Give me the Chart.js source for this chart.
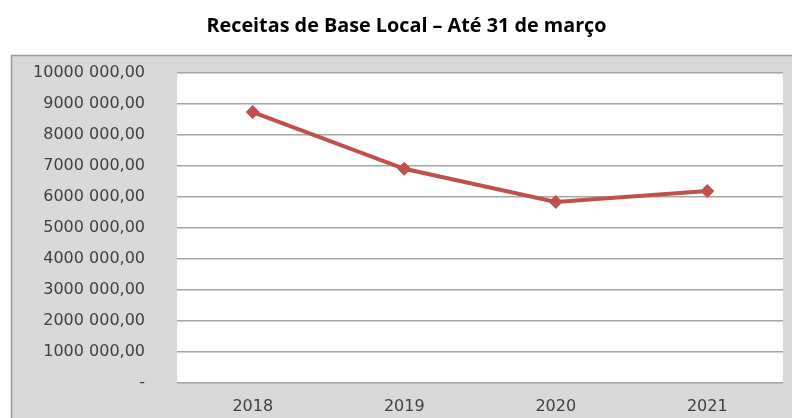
<!DOCTYPE html>
<html>
<head>
<meta charset="utf-8">
<script src="https://cdn.jsdelivr.net/npm/chart.js@4/dist/chart.umd.min.js"></script>
<style>
html,body{margin:0;padding:0;background:#fff;}
#wrap{width:792px;height:418px;position:relative;}
</style>
</head>
<body>
<div id="wrap"><canvas id="c" width="792" height="418"></canvas></div>
<script>
const chartTitle = 'Receitas de Base Local – Até 31 de março';
const categories = ['2018', '2019', '2020', '2021'];
const receitas = [8740000, 6910000, 5840000, 6190000];
const yTickValues = [0, 1000000, 2000000, 3000000, 4000000, 5000000, 6000000, 7000000, 8000000, 9000000, 10000000];
const yTickLabels = ['-', '1000 000,00', '2000 000,00', '3000 000,00', '4000 000,00', '5000 000,00', '6000 000,00', '7000 000,00', '8000 000,00', '9000 000,00', '10000 000,00'];

const bgPlugin = {
  id: 'bgPlugin',
  beforeDraw(chart) {
    const ctx = chart.ctx;
    const a = chart.chartArea;
    ctx.save();
    ctx.fillStyle = '#ffffff';
    ctx.fillRect(0, 0, chart.width, chart.height);
    ctx.fillStyle = '#d9d9d9';
    ctx.fillRect(11, 55, chart.width - 11, chart.height - 55);
    ctx.strokeStyle = '#9a9a9a';
    ctx.lineWidth = 1.5;
    ctx.beginPath();
    ctx.moveTo(11.5, chart.height + 2);
    ctx.lineTo(11.5, 55.5);
    ctx.lineTo(chart.width + 2, 55.5);
    ctx.stroke();
    ctx.fillStyle = '#ffffff';
    ctx.fillRect(a.left, a.top, a.right - a.left, a.bottom - a.top);
    ctx.restore();
  }
};

new Chart(document.getElementById('c'), {
  type: 'line',
  data: {
    labels: categories,
    datasets: [{
      data: receitas,
      borderColor: '#c0504d',
      backgroundColor: '#c0504d',
      borderWidth: 4,
      pointStyle: 'rectRot',
      pointRadius: 6.5,
      pointHoverRadius: 6.5,
      pointBorderWidth: 1,
      tension: 0,
      fill: false
    }]
  },
  options: {
    responsive: false,
    animation: false,
    devicePixelRatio: 1,
    layout: { padding: { left: 30, right: 9, top: 0, bottom: 0 } },
    plugins: {
      legend: { display: false },
      tooltip: { enabled: false },
      title: {
        display: true,
        text: chartTitle,
        color: '#000000',
        font: { family: 'Open Sans', size: 19.8, weight: 'bold', lineHeight: 1.2 },
        padding: { top: 14, bottom: 35.2 }
      }
    },
    scales: {
      x: {
        offset: true,
        grid: { display: false, drawTicks: false },
        border: { display: false },
        ticks: {
          color: '#404040',
          font: { family: 'DejaVu Sans', size: 16 },
          padding: 14
        },
        afterFit(scale) { scale.height = 35; }
      },
      y: {
        min: 0,
        max: 10000000,
        afterBuildTicks(scale) { scale.ticks = yTickValues.map(v => ({ value: v })); },
        grid: { color: '#a6a6a6', lineWidth: 1.5, drawTicks: false },
        border: { display: false },
        ticks: {
          color: '#404040',
          font: { family: 'DejaVu Sans', size: 16 },
          padding: 32,
          callback: (v) => {
            const i = yTickValues.indexOf(v);
            return i >= 0 ? yTickLabels[i] : '';
          }
        },
        afterFit(scale) {
          scale.width = 147;
          scale.paddingTop = 10;
          scale.paddingBottom = 10;
        }
      }
    }
  },
  plugins: [bgPlugin]
});
</script>
</body>
</html>
